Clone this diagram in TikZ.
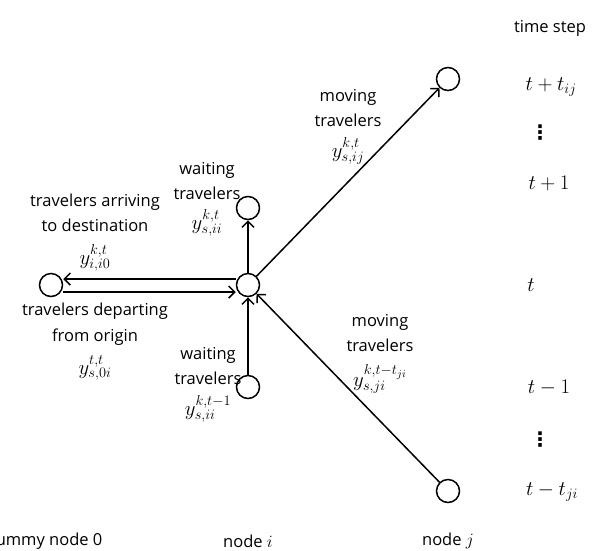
\documentclass[tikz,border=0pt]{standalone}
\usepackage{fontspec}
\setmainfont{Open Sans}
\newfontfamily\dejavu{DejaVu Sans}
\DeclareMathSizes{20}{20}{15}{11}
\usetikzlibrary{arrows.meta}
\begin{document}
\begin{tikzpicture}[x=1pt,y=-1pt,
  vert/.style={circle,draw,line width=1.5pt,minimum size=23pt,inner sep=0pt},
  lbl/.style={font=\fontsize{16.5}{25.5}\selectfont,align=center,inner sep=0pt},
  mth/.style={font=\fontsize{20}{22}\selectfont,inner sep=0pt},
  ymth/.style={font=\fontsize{20}{22}\selectfont,inner sep=0pt},
  dts/.style={font=\dejavu\bfseries\fontsize{20}{20}\selectfont,inner sep=0pt},
  flow/.style={line width=1.5pt,-{Straight Barb[length=6pt,width=12pt,line width=1.5pt]}}]
\useasboundingbox (0,0) rectangle (601,550);
% vertices
\node[vert] (d0) at (51,285) {};
\node[vert] (ni) at (248,285) {};
\node[vert] (wt) at (248,208) {};
\node[vert] (wb) at (248,387) {};
\node[vert] (jt) at (448,79) {};
\node[vert] (jb) at (448,491) {};
% connectors
\draw[flow] ([yshift=6pt]ni.west) -- ([yshift=6pt]d0.east);
\draw[flow] ([yshift=-7pt]d0.east) -- ([yshift=-7pt]ni.west);
\draw[flow] (ni) -- (wt);
\draw[flow] (wb) -- (ni);
\draw[flow] (ni) -- (jt);
\draw[flow] (jb) -- (ni);
% labels
\node[lbl] (la) at (95,213) {travelers arriving\\to destination};
\node[ymth] (ya) at (95,258) {$y^{k,t}_{i,i0}$};
\node[lbl] (ld) at (95,324) {travelers departing\\from origin};
\node[ymth] (yd) at (95,368) {$y^{t,t}_{s,0i}$};
\node[lbl] (lwt) at (207,181) {waiting\\travelers};
\node[ymth] (ywt) at (207,223) {$y^{k,t}_{s,ii}$};
\node[lbl] (lwb) at (208,366) {waiting\\travelers};
\node[ymth] (ywb) at (208,409) {$y^{k,t-1}_{s,ii}$};
\node[lbl] (lmt) at (348,108) {moving\\travelers};
\node[ymth] (ymt) at (348,151) {$y^{k,t}_{s,ij}$};
\node[lbl] (lmb) at (380,333) {moving\\travelers};
\node[ymth] (ymb) at (380,379) {$y^{k,t-t_{ji}}_{s,ji}$};
% time axis
\node[lbl] (ts) at (550,28) {time step};
\node[mth] (t1) at (551,87) {$t+t_{ij}$};
\node[dts] (dv1) at (540,133) {⋮};
\node[mth] (t2) at (549,183) {$t+1$};
\node[mth] (t3) at (531,285) {$t$};
\node[mth] (t4) at (549,388) {$t-1$};
\node[dts] (dv2) at (540,440) {⋮};
\node[mth] (t5) at (552,492) {$t-t_{ji}$};
% bottom
\node[lbl] (b0) at (44,541) {dummy node 0};
\node[lbl] (bi) at (248,541) {node $i$};
\node[lbl] (bj) at (448,541) {node $j$};
\end{tikzpicture}
\end{document}
